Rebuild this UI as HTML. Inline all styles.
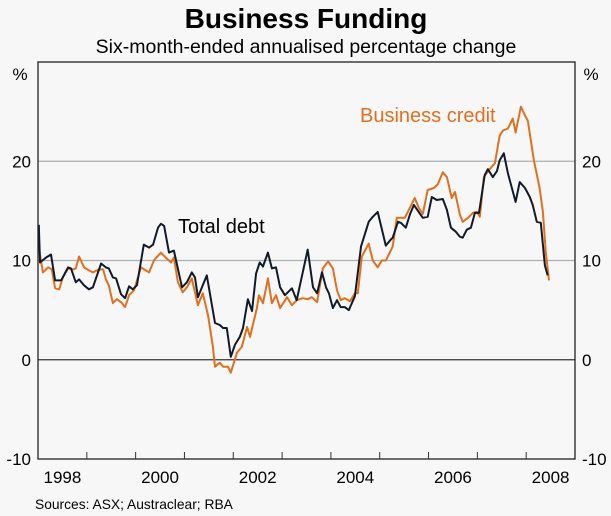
<!DOCTYPE html>
<html><head><meta charset="utf-8"><style>
body{margin:0;background:#f7f7f7;}
svg{display:block;font-family:"Liberation Sans",Arial,sans-serif;}
</style></head><body>
<svg id="chart" width="611" height="516" viewBox="0 0 611 516">
<rect width="611" height="516" fill="#f7f7f7"/>
<text x="306" y="28" text-anchor="middle" font-size="28" font-weight="bold" fill="#000">Business Funding</text>
<text x="306" y="53" text-anchor="middle" font-size="19.5" fill="#000">Six-month-ended annualised percentage change</text>
<text x="20" y="80" text-anchor="middle" font-size="17">%</text>
<text x="591" y="80" text-anchor="middle" font-size="17">%</text>
<g id="grid"></g>
<g id="series"></g>
<rect x="38" y="62" width="537" height="397" fill="none" stroke="#222" stroke-width="1.3"/>
<g id="axes"></g>
<text x="178" y="233" font-size="20" fill="#000">Total debt</text>
<text x="360" y="122" font-size="20" fill="#e07020">Business credit</text>
<text x="35" y="509" font-size="13.8" fill="#000">Sources: ASX; Austraclear; RBA</text>
</svg>
<script>
const yTicks=[-10,0,10,20];
const yearLabels=[1998,2000,2002,2004,2006,2008];
const debtMonths=[0.2,0.5,2,3.2,4.2,5.7,7.4,8.1,9.3,10.1,11.3,12.5,13.5,15.5,16.7,17.4,18.4,19.2,20.4,21.4,22.4,23.3,24.3,26,27.3,28.3,29.5,30.2,31,32.2,33.4,35.4,36.6,37.8,38.6,39.3,41.5,43.5,44.7,45.5,46.4,47.4,48.4,49.6,50.4,51.6,52.6,53.6,54.5,55.3,56.5,57.5,58.5,59.5,60.7,62.4,63.6,66.3,67.6,68.6,69.8,70.8,71.5,72.5,73.5,74.4,75.4,76.4,77.9,79.4,80.3,81.3,82.3,83.5,85.5,86.7,87.2,88.5,89.2,90.4,91.4,92.4,93.4,94.6,95.8,96.8,98,99.5,100.5,101.5,102.7,103.7,104.4,105.4,106.4,107.4,108.4,109.8,110.6,111.8,112.8,113.5,114.5,115.5,117.4,118.4,119.7,120.9,121.6,122.6,123.6,124.6,125.3];
const debtValues=[13.6,9.8,10.3,10.6,8.0,8.0,9.3,9.2,7.8,8.1,7.5,7.1,7.3,9.7,9.3,9.2,8.3,8.2,6.6,6.2,7.4,7.1,7.5,11.6,11.3,11.6,13.3,13.7,13.5,10.8,11.0,7.3,7.8,8.8,8.3,6.3,8.5,3.7,3.5,3.2,3.2,0.3,1.5,2.3,3.2,6.1,4.9,8.7,9.8,9.4,10.8,9.2,9.3,7.3,6.5,7.2,6.0,11.1,7.3,6.7,8.8,7.3,6.7,5.2,6.0,5.3,5.3,5.0,6.4,11.4,12.6,13.9,14.4,14.9,11.5,12.1,12.3,13.9,13.8,13.3,14.6,15.6,15.0,14.3,14.4,16.4,16.1,16.2,15.1,13.3,12.9,12.4,12.3,13.1,13.3,14.8,14.8,18.6,19.2,18.4,19.0,20.1,20.8,18.8,15.9,17.9,17.3,16.4,15.6,13.9,13.8,9.5,8.5];
const creditMonths=[0.2,1.2,2.5,3.4,4.2,5.2,6.1,7.4,8.6,9.3,10.1,11.3,12.5,13.5,15,16,16.7,17.4,18.4,19.4,20.4,21.4,22.4,23.6,25.3,26.5,27.3,28.5,30.2,31.4,32.7,33.4,34.4,35.6,36.6,37.8,39.3,40.5,41.8,43,43.5,44.7,45.5,46.7,47.4,48.9,50.1,51.4,52.1,53.8,54.3,55.3,56.5,57.5,58.5,59.5,61.2,62.4,63.6,65.1,66.3,67.3,68.6,70,71.3,72.5,73.5,74.4,75.4,76.7,77.9,78.6,79.6,81.3,82.3,83.5,84.5,85.5,87.2,88.2,90.2,91.4,92.6,93.6,94.6,95.8,97.3,98.3,99.5,100.5,101.7,102.5,103.7,104.4,105.7,106.9,107.9,108.6,109.6,110.8,112.3,113.5,114.3,115.5,116.7,117.4,118.7,119.7,120.4,121.9,123.3,124.1,124.8,125.6];
const creditValues=[11.3,8.8,9.3,9.1,7.2,7.1,8.3,9.2,9.1,9.2,10.4,9.3,9.0,8.8,9.1,9.1,8.1,7.5,5.7,6.1,5.8,5.3,6.5,7.0,9.3,9.0,8.8,10.0,10.8,10.3,9.8,10.3,7.8,6.8,7.3,8.2,5.5,6.7,4.5,1.3,-0.7,-0.3,-0.7,-0.7,-1.3,0.7,1.3,3.3,2.3,5.2,6.5,5.7,8.2,5.7,6.5,5.2,6.3,5.5,6.0,6.2,6.1,6.3,5.8,9.2,9.9,9.2,7.0,6.0,6.2,5.9,6.7,6.7,10.4,11.7,10.0,9.3,10.0,10.0,11.4,14.3,14.3,15.3,16.3,15.3,14.7,17.1,17.3,17.7,18.9,18.4,16.3,16.9,14.6,13.9,14.3,14.8,14.9,14.4,18.4,19.1,19.8,22.6,23.1,23.3,24.3,22.9,25.5,24.6,24.1,20.1,17.3,14.9,10.9,8.0];

const NS='http://www.w3.org/2000/svg';
const X0=38,X1=575,Y0=459,Y1=62;
const xOf=m=>X0+m*(X1-X0)/132;
const yOf=v=>Y0-(v+10)*(Y0-Y1)/40;
function mk(tag,attrs,parent){const e=document.createElementNS(NS,tag);for(const k in attrs)e.setAttribute(k,attrs[k]);parent.appendChild(e);return e;}
const grid=document.getElementById('grid'),axes=document.getElementById('axes'),ser=document.getElementById('series');
yTicks.forEach(v=>{
  if(v>-10){
    const l=mk('line',{x1:X0,x2:X1,y1:yOf(v),y2:yOf(v),stroke:v===0?'#333':'#aab0b4','stroke-width':v===0?1.3:1.2},grid);
    
    
  }
  const a=mk('text',{x:31,y:yOf(v)+6,'text-anchor':'end','font-size':17},axes);a.textContent=v;
  
  
  const b=mk('text',{x:582,y:yOf(v)+6,'text-anchor':'start','font-size':17},axes);b.textContent=v;
  
  
});
for(let k=1;k<11;k++){
  const t=mk('line',{x1:xOf(12*k),x2:xOf(12*k),y1:Y0,y2:Y0-7,stroke:'#333','stroke-width':1},axes);
  
  
}
yearLabels.forEach(y=>{
  const t=mk('text',{x:xOf((y-1998)*12+6),y:483,'text-anchor':'middle','font-size':17},axes);t.textContent=y;
  
  
});
function line(ms,vs,color,name){
  const d=ms.map((m,i)=>(i?'L':'M')+xOf(m).toFixed(1)+','+yOf(vs[i]).toFixed(1)).join('');
  const p=mk('path',{d:d,fill:'none',stroke:color,'stroke-width':2,'stroke-linejoin':'round'},ser);
  
  
}
line(creditMonths,creditValues,'#e07020','business-credit-line');
line(debtMonths,debtValues,'#111a28','total-debt-line');
</script>
</body></html>
